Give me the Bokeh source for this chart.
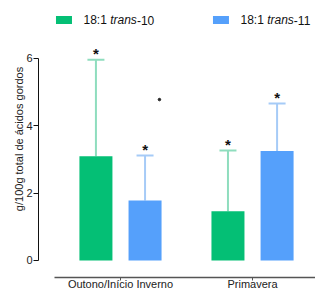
from bokeh.plotting import figure
from bokeh.models import ColumnDataSource, Range1d, FixedTicker
from bokeh.transform import dodge
from bokeh.core.properties import value
from bokeh.embed import file_html
from bokeh.resources import INLINE

# ---- data ----
categories = ["Outono/Início Inverno", "Primavera"]
series_names = ["18:1 trans-10", "18:1 trans-11"]
trans10_mean = [3.10, 1.46]
trans10_sd = [2.86, 1.81]
trans11_mean = [1.78, 3.25]
trans11_sd = [1.34, 1.41]
y_ticks = [0, 2, 4, 6]
stray_dot_x = [0.295]
stray_dot_y = [4.78]

GREEN = "#04BF75"
BLUE = "#55A0FB"
GREEN_ERR = "#8FDDBE"
BLUE_ERR = "#A6CBF7"
FONT = "Liberation Sans"

idx = list(range(len(categories)))
src10 = ColumnDataSource(dict(x=idx, mean=trans10_mean,
                              top=[m + s for m, s in zip(trans10_mean, trans10_sd)]))
src11 = ColumnDataSource(dict(x=idx, mean=trans11_mean,
                              top=[m + s for m, s in zip(trans11_mean, trans11_sd)]))

p = figure(width=315, height=293, output_backend="svg", toolbar_location=None,
           x_range=Range1d(-0.621, 1.477), y_range=Range1d(-0.505, 7.7226),
           min_border_left=38, min_border_right=0, min_border_top=0, min_border_bottom=16)
p.outline_line_color = None
p.xgrid.visible = False
p.ygrid.visible = False
p.background_fill_color = "white"

OFF = 0.186
BW = 0.25
for src, off, col, ecol in [(src10, -OFF, GREEN, GREEN_ERR), (src11, OFF, BLUE, BLUE_ERR)]:
    xd = dodge("x", off, range=p.x_range)
    p.segment(x0=xd, y0="mean", x1=xd, y1="top", source=src, line_color=ecol, line_width=2)
    p.rect(x=xd, y="top", width=17, height=2, width_units="screen", height_units="screen",
           source=src, fill_color=ecol, line_color=None)
    p.vbar(x=xd, top="mean", bottom=0, width=BW, source=src, fill_color=col, line_color=None)
    p.text(x=xd, y="top", text=value("*"), source=src, text_align="center",
           text_baseline="alphabetic", y_offset=-6, text_font=value(FONT),
           text_font_size="15px", text_font_style="bold", text_color="#111111")

p.scatter(x=stray_dot_x, y=stray_dot_y, size=2.5, color="#222222")

# legend (manual, to allow italic "trans")
leg_y = 7.143
for lx, col, suffix in [(-0.428, GREEN, "-10"), (0.761, BLUE, "-11")]:
    p.rect(x=[lx], y=[leg_y], width=16, height=8, width_units="screen",
           height_units="screen", fill_color=col, line_color=None)
    for t, dx, style in [("18:1 ", 19.5, "normal"), ("trans", 46.2, "italic"), (suffix, 72.9, "normal")]:
        p.text(x=[lx], y=[leg_y], text=[t], x_offset=dx, text_align="left",
               text_baseline="middle", text_font=value(FONT), text_font_size="12px",
               text_font_style=style, text_color="#111111")

# y axis
ya = p.yaxis[0]
ya.ticker = FixedTicker(ticks=y_ticks)
ya.bounds = (0, 6)
ya.axis_label = "g/100g total de ácidos gordos"
ya.axis_label_text_font = FONT
ya.axis_label_text_font_size = "11px"
ya.axis_label_text_font_style = "normal"
ya.axis_label_text_color = "#222222"
ya.axis_label_standoff = -2
ya.major_label_text_font = FONT
ya.major_label_text_font_size = "11px"
ya.major_label_text_color = "#222222"
ya.major_label_standoff = 1
ya.major_tick_out = 5
ya.major_tick_in = 0
ya.minor_tick_out = 0
ya.minor_tick_in = 0
ya.axis_line_color = "#111111"
ya.major_tick_line_color = "#111111"

# x axis
xa = p.xaxis[0]
xa.ticker = FixedTicker(ticks=idx)
xa.major_label_overrides = {i: c for i, c in zip(idx, categories)}
xa.bounds = (-0.5, 2.0)
xa.major_label_text_font = FONT
xa.major_label_text_font_size = "11px"
xa.major_label_text_color = "#222222"
xa.major_label_standoff = -3
xa.major_tick_out = 3
xa.major_tick_in = 0
xa.minor_tick_out = 0
xa.minor_tick_in = 0
xa.axis_line_color = "#555555"
xa.axis_line_width = 1.3
xa.major_tick_line_color = "#555555"

open("out.html", "w").write(file_html(p, INLINE))
